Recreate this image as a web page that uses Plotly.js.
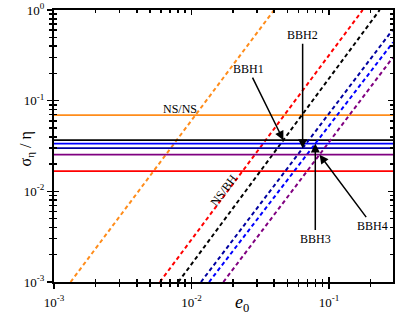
<!DOCTYPE html>
<html><head><meta charset="utf-8">
<script src="https://cdn.plot.ly/plotly-3.0.1.min.js"></script>
<style>html,body{margin:0;padding:0;background:#fff}#chart{width:398px;height:320px}</style>
</head><body><div id="chart"></div>
<script>
// ---- data ----
const names  = ['NS/NS', 'NS/BH', 'BBH1', 'BBH2', 'BBH3', 'BBH4'];
const colors = ['#ff8c1a', '#ff0000', '#000000', '#0000a0', '#0000ff', '#800080'];
// horizontal levels (sigma_eta / eta)
const levels = [0.0692, 0.01668, 0.0367, 0.0299, 0.0336, 0.0254];
// dashed lines: end points (e0, sigma_eta/eta)
const dashX = [[0.00132, 0.0399], [0.00589, 0.176], [0.00802, 0.234], [0.01172, 0.2924], [0.01343, 0.2924], [0.01706, 0.2924]];
const dashY = [[0.001, 1], [0.001, 1], [0.001, 1], [0.001, 0.612], [0.001, 0.4395], [0.001, 0.3006]];
const xRange = [0.001, 0.2924];
const yRange = [0.001, 1];
const xTickVals = [0.001, 0.01, 0.1];
const xTickText = ['10<sup>-3</sup>', '10<sup>-2</sup>', '10<sup>-1</sup>'];
const yTickVals = [0.001, 0.01, 0.1, 1];
const yTickText = ['10<sup>-3</sup>', '10<sup>-2</sup>', '10<sup>-1</sup>', '10<sup>0</sup>'];

const L = Math.log10;
function minorVals(lo, hi) {
  const out = [];
  for (let d = Math.floor(L(lo)); d <= Math.ceil(L(hi)); d++)
    for (let m = 2; m <= 9; m++) { const v = m * Math.pow(10, d); if (v > lo && v < hi) out.push(v); }
  return out;
}
const minorX = minorVals(xRange[0], xRange[1]);
const minorY = minorVals(yRange[0], yRange[1]);

const traces = [];
names.forEach((n, i) => {
  traces.push({x: xRange, y: [levels[i], levels[i]], mode: 'lines', line: {color: colors[i], width: 1.7}, hoverinfo: 'skip'});
  traces.push({x: dashX[i], y: dashY[i], mode: 'lines', line: {color: colors[i], width: 2, dash: '4px,3px'}, hoverinfo: 'skip'});
});
traces.push({x: xRange, y: yRange, xaxis: 'x2', yaxis: 'y2', mode: 'lines', line: {width: 0}, opacity: 0, hoverinfo: 'skip'});

// arrow tips = intersection of each level with its dashed line
function tip(i) {
  const lx0 = L(dashX[i][0]), lx1 = L(dashX[i][1]), ly0 = L(dashY[i][0]), ly1 = L(dashY[i][1]);
  const ly = L(levels[i]);
  return [lx0 + (ly - ly0) * (lx1 - lx0) / (ly1 - ly0), ly];
}
const serif = 'Liberation Serif, Times New Roman, serif';
const annFont = {family: serif, size: 12, color: '#000'};
const arrowOff = {BBH1: [-35, -71], BBH2: [0, -113], BBH3: [0, 95], BBH4: [53, 71]};
const annotations = [];
['BBH1', 'BBH2', 'BBH3', 'BBH4'].forEach(n => {
  const i = names.indexOf(n); const t = tip(i);
  annotations.push({x: t[0], y: t[1], xref: 'x', yref: 'y', text: n, showarrow: true, arrowhead: 2, arrowsize: 1.2, arrowwidth: 1.5, arrowcolor: '#000', ax: arrowOff[n][0], ay: arrowOff[n][1], font: annFont});
});
annotations.push({x: -2.084, y: -1.093, xref: 'x', yref: 'y', text: 'NS/NS', showarrow: false, font: annFont});
annotations.push({x: -1.763, y: -1.988, xref: 'x', yref: 'y', text: 'NS/BH', showarrow: false, textangle: -53, font: annFont});
annotations.push({x: 0.555, y: -0.08, xref: 'paper', yref: 'paper', yanchor: 'middle', text: '<i>e</i><sub>0</sub>', showarrow: false, font: {family: serif, size: 18, color: '#000'}});
annotations.push({x: -0.116, y: 0.488, xref: 'paper', yref: 'paper', text: '\u03c3<sub>\u03b7</sub> / \u03b7', textangle: -90, showarrow: false, font: {family: serif, size: 16, color: '#000'}});

const tickFont = {family: serif, size: 13, color: '#000'};
const base = {type: 'log', showline: true, linewidth: 2, linecolor: '#000', showgrid: false, zeroline: false, tickwidth: 1.5, tickcolor: '#000'};
const layout = {
  width: 398, height: 320, margin: {l: 54, r: 5, t: 10, b: 38},
  paper_bgcolor: '#fff', plot_bgcolor: '#fff', showlegend: false,
  xaxis: Object.assign({}, base, {range: [L(xRange[0]), L(xRange[1])], tickmode: 'array', tickvals: xTickVals, ticktext: xTickText, ticks: 'outside', ticklen: 5, ticklabelstandoff: 2, mirror: true, tickfont: tickFont,
    minor: {ticks: 'outside', ticklen: 3, tickwidth: 1.5, tickcolor: '#000', tickmode: 'array', tickvals: minorX, showgrid: false}}),
  yaxis: Object.assign({}, base, {range: [L(yRange[0]), L(yRange[1])], tickmode: 'array', tickvals: yTickVals, ticktext: yTickText, ticks: 'outside', ticklen: 5, mirror: true, tickfont: tickFont,
    minor: {ticks: 'outside', ticklen: 3, tickwidth: 1.5, tickcolor: '#000', tickmode: 'array', tickvals: minorY, showgrid: false}}),
  xaxis2: Object.assign({}, base, {overlaying: 'x', anchor: 'y', side: 'bottom', range: [L(xRange[0]), L(xRange[1])], tickmode: 'array', tickvals: xTickVals, ticks: 'inside', ticklen: 5, mirror: 'allticks', showticklabels: false,
    minor: {ticks: 'inside', ticklen: 3, tickwidth: 1.5, tickcolor: '#000', tickmode: 'array', tickvals: minorX, showgrid: false}}),
  yaxis2: Object.assign({}, base, {overlaying: 'y', anchor: 'x', side: 'left', range: [L(yRange[0]), L(yRange[1])], tickmode: 'array', tickvals: yTickVals, ticks: 'inside', ticklen: 5, mirror: 'allticks', showticklabels: false,
    minor: {ticks: 'inside', ticklen: 3, tickwidth: 1.5, tickcolor: '#000', tickmode: 'array', tickvals: minorY, showgrid: false}}),
  annotations: annotations
};
Plotly.newPlot('chart', traces, layout, {staticPlot: true});
</script></body></html>
